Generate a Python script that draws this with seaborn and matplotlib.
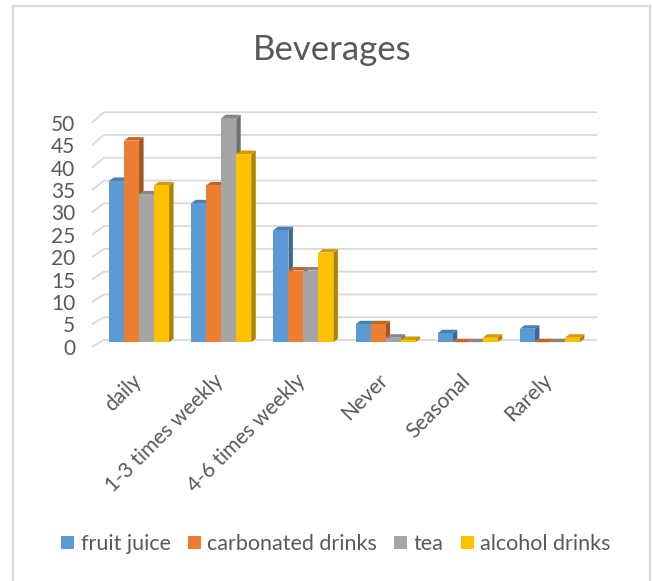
import numpy as np
import pandas as pd
import seaborn as sns
import matplotlib
matplotlib.use("Agg")
import matplotlib.pyplot as plt
from matplotlib.patches import Polygon, Rectangle
from matplotlib.transforms import ScaledTranslation

# ---------------- data ----------------
categories = ["daily", "1-3 times weekly", "4-6 times weekly", "Never", "Seasonal", "Rarely"]
fruit_juice = [36, 31, 25, 4, 2, 3]
carbonated_drinks = [45, 35, 16, 4, 0, 0]
tea = [33, 50, 16, 1, 0, 0]
alcohol_drinks = [35, 42, 20, 0.5, 1, 1]
series_names = ["fruit juice", "carbonated drinks", "tea", "alcohol drinks"]
yticks = [0, 5, 10, 15, 20, 25, 30, 35, 40, 45, 50]
title = "Beverages"

colors = ["#5B9BD5", "#ED7D31", "#A5A5A5", "#FFC000"]
TEXT = "#595959"
GRID = "#d9d9d9"

df = pd.DataFrame({
    "category": categories * 4,
    "value": fruit_juice + carbonated_drinks + tea + alcohol_drinks,
    "beverage": sum([[n] * len(categories) for n in series_names], []),
})

sns.set_style("white")
plt.rcParams["font.family"] = ["Lato", "DejaVu Sans"]

W, H, DPI = 652, 581, 100
fig = plt.figure(figsize=(W / DPI, H / DPI), dpi=DPI)
ax_left, ax_right = 92, 585
ax_bottom, ax_top = 346.7, 122.7
ax = fig.add_axes([ax_left / W, (H - ax_bottom) / H, (ax_right - ax_left) / W, (ax_bottom - ax_top) / H])

sns.barplot(data=df, x="category", y="value", hue="beverage", order=categories,
            hue_order=series_names, palette=colors, width=0.73, saturation=1,
            ax=ax, legend=False, errorbar=None)

ax.set_xlim(-0.5, 5.5)
ax.set_ylim(0, 50)
for s in ax.spines.values():
    s.set_visible(False)
ax.set_xlabel("")
ax.set_ylabel("")
ax.set_facecolor("none")

# pixel -> data conversion
ppx = (ax_right - ax_left) / 6.0
ppy = (ax_bottom - ax_top) / 50.0

# gridlines with 3D back-wall offset
xmin, xmax = ax.get_xlim()
for v in yticks:
    dxg = 12 / ppx
    dyg = (6.7 + 3.8 * v / 50) / ppy
    ax.plot([xmin, xmin + dxg, xmax + dxg], [v, v + dyg, v + dyg],
            color=GRID, lw=1.3, clip_on=False, zorder=0.5, solid_capstyle="butt")

# 3D bars
ox_px, oy_px = 6, 4.5
ox, oy = ox_px / ppx, oy_px / ppy
dxb, dyb = 4.5 / ppx, 3.5 / ppy
off = ScaledTranslation(ox_px / DPI, oy_px / DPI, fig.dpi_scale_trans)


def shade(c, f):
    c = np.array(matplotlib.colors.to_rgb(c))
    return tuple(np.clip(c * f, 0, 1))


bars = [p for p in ax.patches if isinstance(p, Rectangle)]
for p in bars:
    x0, w, h = p.get_x(), p.get_width(), p.get_height()
    x1 = x0 + w
    fc = p.get_facecolor()
    p.set_transform(ax.transData + off)
    p.set_zorder(3)
    p.set_linewidth(0)
    p.set_clip_on(False)
    side = Polygon([(x1 + ox, oy), (x1 + ox + dxb, oy + dyb), (x1 + ox + dxb, h + oy + dyb), (x1 + ox, h + oy)],
                   closed=True, facecolor=shade(fc, 0.68), edgecolor="none", zorder=2, clip_on=False)
    top = Polygon([(x0 + ox, h + oy), (x1 + ox, h + oy), (x1 + ox + dxb, h + oy + dyb), (x0 + ox + dxb, h + oy + dyb)],
                  closed=True, facecolor=shade(fc, 0.82), edgecolor="none", zorder=2.5, clip_on=False)
    ax.add_patch(side)
    ax.add_patch(top)

# ticks
ax.set_yticks(yticks)
ax.set_yticklabels([str(v) for v in yticks])
ax.tick_params(axis="y", length=0, pad=12, labelsize=15, labelcolor=TEXT)
ax.set_xticks(range(len(categories)))
ax.set_xticklabels(categories, rotation=45, ha="right", va="top", rotation_mode="anchor")
ax.tick_params(axis="x", length=0, pad=17, labelsize=15, labelcolor=TEXT)
xoff = ScaledTranslation(-2 / DPI, 0, fig.dpi_scale_trans)
for lab in ax.get_xticklabels():
    lab.set_transform(lab.get_transform() + xoff)

# title
fig.text(332 / W, 1 - 50 / H, title, ha="center", va="center", fontsize=25, color=TEXT)

# legend
handles = [Rectangle((0, 0), 1, 1, facecolor=c, edgecolor="none") for c in colors]
fig.legend(handles, series_names, ncol=4, loc="center", bbox_to_anchor=(336 / W, 1 - 544 / H),
           frameon=False, fontsize=15.5, handlelength=0.6, handleheight=0.6,
           handletextpad=0.3, columnspacing=0.8, labelcolor=TEXT)

# chart border
fig.patches.append(Rectangle((13 / W, -0.02), (650 - 13) / W, (H - 6) / H + 0.02,
                             transform=fig.transFigure, fill=False, edgecolor=GRID, lw=1.6))

fig.savefig("out.png", dpi=DPI)
